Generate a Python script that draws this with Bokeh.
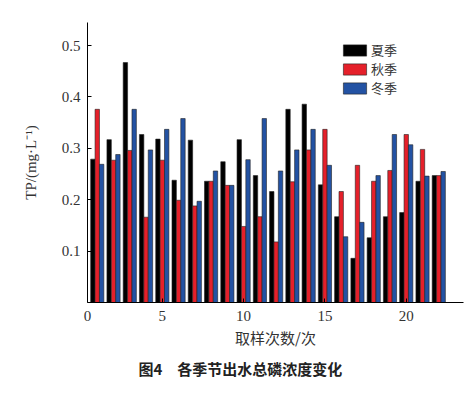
from bokeh.plotting import figure
from bokeh.models import ColumnDataSource, Legend, LegendItem, Title, FixedTicker, Range1d
from bokeh.embed import file_html
from bokeh.resources import INLINE
from bokeh.transform import dodge

samples = list(range(1, 23))
summer = [0.279, 0.317, 0.467, 0.327, 0.318, 0.238, 0.316, 0.236, 0.274, 0.317, 0.247,
          0.216, 0.376, 0.386, 0.229, 0.167, 0.086, 0.126, 0.167, 0.175, 0.236, 0.247]
autumn = [0.376, 0.277, 0.296, 0.166, 0.277, 0.199, 0.188, 0.236, 0.228, 0.148, 0.167,
          0.118, 0.235, 0.297, 0.337, 0.216, 0.267, 0.236, 0.257, 0.327, 0.298, 0.247]
winter = [0.269, 0.288, 0.376, 0.297, 0.337, 0.358, 0.197, 0.256, 0.228, 0.278, 0.358,
          0.256, 0.297, 0.337, 0.267, 0.128, 0.156, 0.247, 0.327, 0.307, 0.246, 0.255]
series_names = ["夏季", "秋季", "冬季"]
colors = ["#000000", "#e5202a", "#2352a3"]
x_ticks = [0.4, 5, 10, 15, 20]
y_ticks = [0.1, 0.2, 0.3, 0.4, 0.5]

source = ColumnDataSource(dict(x=samples, summer=summer, autumn=autumn, winter=winter))

p = figure(width=465, height=389, output_backend="svg", toolbar_location=None,
           x_range=Range1d(0.4, 23.52), y_range=Range1d(0, 0.545),
           min_border_left=87, min_border_right=2, min_border_top=22, min_border_bottom=87)
p.outline_line_color = None
p.xgrid.visible = False
p.ygrid.visible = False

cols = ["summer", "autumn", "winter"]
offsets = [-0.27, 0.0, 0.27]
renderers = []
for c, off, col in zip(cols, offsets, colors):
    r = p.vbar(x=dodge("x", off), top=c, width=0.27, source=source,
               fill_color=col, line_color="#222222", line_width=0.6)
    renderers.append(r)

serif = "Liberation Serif"
cjk = "Noto Sans CJK SC"

for ax in (p.xaxis, p.yaxis):
    ax.axis_line_color = "#000000"
    ax.axis_line_width = 1
    ax.major_tick_in = 4
    ax.major_tick_out = 0
    ax.minor_tick_line_color = None
    ax.major_label_text_font = serif
    ax.major_label_text_font_size = "15px"
    ax.major_label_text_color = "#333333"
    ax.axis_label_text_font_style = "normal"
    ax.axis_label_text_color = "#333333"
    ax.axis_label_text_font_size = "15px"

p.xaxis.ticker = FixedTicker(ticks=x_ticks)
p.xaxis.major_label_overrides = {0.4: "0"}
p.yaxis.ticker = FixedTicker(ticks=y_ticks)
p.xaxis.major_label_standoff = 8
p.yaxis.major_label_standoff = 7
p.xaxis.axis_label = "取样次数/次"
p.xaxis.axis_label_text_font = cjk
p.xaxis.axis_label_standoff = 3
p.yaxis.axis_label = "TP/(mg·L⁻¹)"
p.yaxis.axis_label_text_font = serif
p.yaxis.axis_label_standoff = 20

legend = Legend(items=[LegendItem(label=n, renderers=[r]) for n, r in zip(series_names, renderers)],
                location=(253, 205), padding=0, margin=0, spacing=0,
                glyph_width=29, glyph_height=14, label_height=14, label_standoff=2,
                label_text_font=cjk, label_text_font_size="13px", label_text_color="#333333",
                label_text_line_height=0.9,
                border_line_color=None, background_fill_alpha=0)
p.add_layout(legend)

cap = Title(text="图4\u3000各季节出水总磷浓度变化", text_font=cjk, text_font_size="15px",
            text_font_style="bold", text_color="#222222", align="left", offset=51)
p.add_layout(cap, "below")

open("out.html", "w").write(file_html(p, INLINE))
